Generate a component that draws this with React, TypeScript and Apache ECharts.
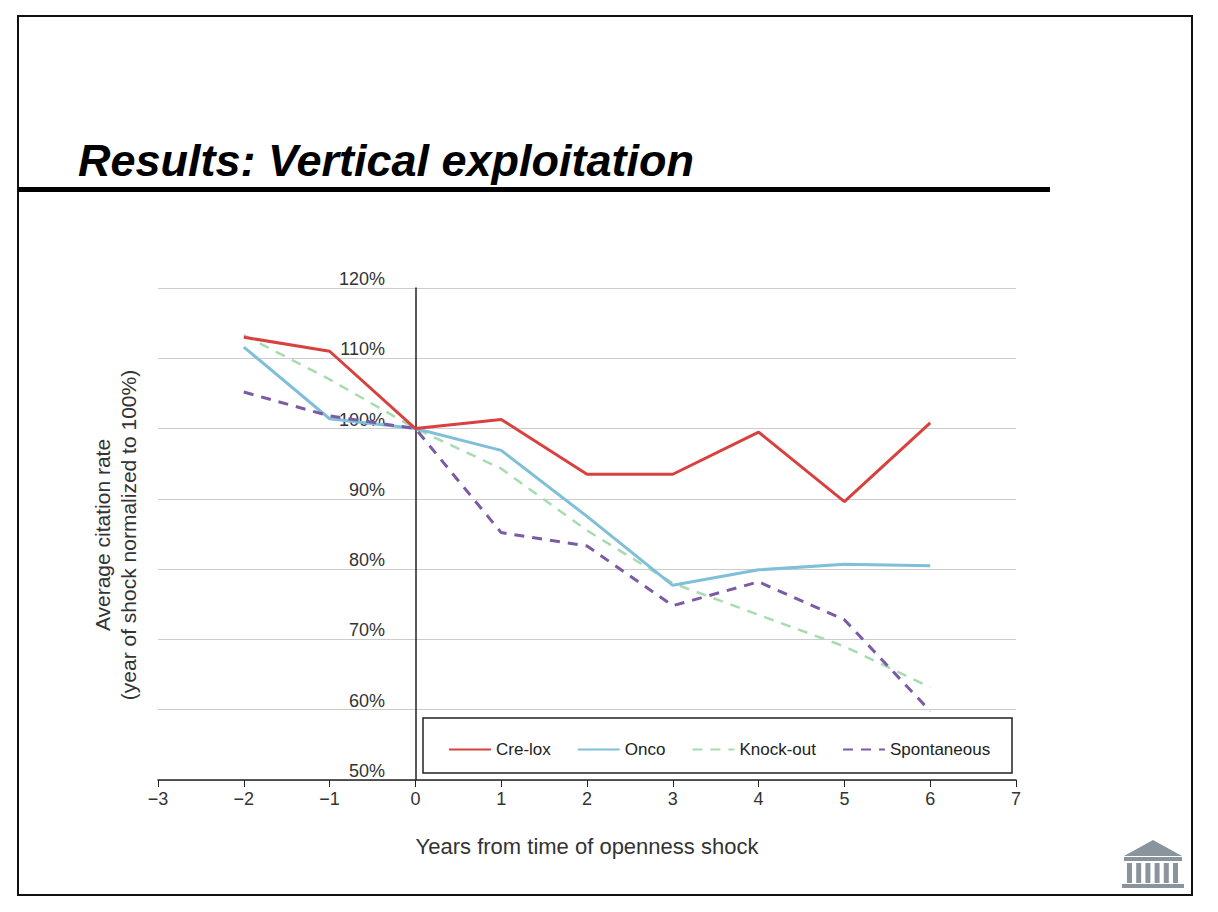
import React, { useEffect, useRef } from "react";
import * as echarts from "echarts";

const years = [-2, -1, 0, 1, 2, 3, 4, 5, 6];
const creLox = [113, 111, 100, 101.3, 93.5, 93.5, 99.5, 89.6, 100.8];
const onco = [111.6, 101.4, 100, 96.9, 87.5, 77.7, 79.9, 80.7, 80.5];
const knockOut = [113.3, 107, 100, 94.3, 85.5, 78, 73.5, 69, 63.2];
const spontaneous = [105.2, 101.8, 100, 85.2, 83.3, 74.8, 78.2, 72.8, 59.8];

const pair = (v: number[]) => years.map((x, i) => [x, v[i]]);
const FONT = "Liberation Sans, Arial, sans-serif";

export default function App() {
  const ref = useRef<HTMLDivElement>(null);
  useEffect(() => {
    const chart = echarts.init(ref.current!, null, { renderer: "svg" });
    const mk = (name: string, data: number[], color: string, dashed: boolean, w = 3) => ({
      name, type: "line", data: pair(data), symbol: "none",
      lineStyle: { color, width: w, type: dashed ? [10, 8] : "solid" },
      itemStyle: { color },
    });
    chart.setOption({
      animation: false,
      textStyle: { fontFamily: FONT },
      grid: { left: 158, right: 202, top: 288, bottom: 132 },
      xAxis: {
        type: "value", min: -3, max: 7, interval: 1,
        axisLine: { onZero: false, lineStyle: { color: "#222", width: 1.5 } },
        axisTick: { show: true, length: 7, lineStyle: { color: "#222" } },
        splitLine: { show: false },
        axisLabel: { fontSize: 18, color: "#333", margin: 10, formatter: (v: number) => (v < 0 ? "\u2212" + -v : String(v)) },
        name: "Years from time of openness shock", nameLocation: "middle", nameGap: 55,
        nameTextStyle: { fontSize: 22, color: "#333" },
      },
      yAxis: {
        type: "value", min: 50, max: 120, interval: 10,
        axisLine: { show: true, onZero: true, lineStyle: { color: "#222", width: 1.5 } },
        axisTick: { show: false },
        splitLine: { lineStyle: { color: "#ccc", width: 1 } },
        axisLabel: { fontSize: 18, color: "#333", margin: -227, verticalAlign: "bottom", formatter: "{value}%" },
      },
      legend: {
        left: 443, top: 736, itemWidth: 42, itemHeight: 3, itemGap: 26,
        itemStyle: { opacity: 0 },
        textStyle: { fontSize: 17, color: "#222" },
        data: ["Cre-lox", "Onco", "Knock-out", "Spontaneous"],
      },
      series: [
        mk("Knock-out", knockOut, "#a6dcb0", true, 2.5),
        mk("Onco", onco, "#7fbfd8", false),
        mk("Cre-lox", creLox, "#d8413f", false),
        mk("Spontaneous", spontaneous, "#7b5aa6", true),
      ],
      graphic: [
        { type: "rect", shape: { x: 18, y: 16, width: 1174, height: 879 }, style: { fill: "none", stroke: "#111", lineWidth: 2 } },
        { type: "text", x: 78, y: 160, style: { text: "Results: Vertical exploitation", font: `italic bold 45px ${FONT}`, fill: "#000", textVerticalAlign: "middle" } },
        { type: "rect", shape: { x: 18, y: 187, width: 1032, height: 5 }, style: { fill: "#000" } },
        { type: "rect", shape: { x: 423, y: 718, width: 589, height: 55 }, style: { fill: "#fff", stroke: "#222", lineWidth: 1.5 }, z: 0 },
        { type: "text", x: 115, y: 535, rotation: Math.PI / 2, style: { text: "Average citation rate\n(year of shock normalized to 100%)", font: `21px ${FONT}`, fill: "#333", align: "center", verticalAlign: "middle", lineHeight: 26 } },
        { type: "group", children: [
          { type: "polygon", shape: { points: [[1124, 856], [1153, 840], [1182, 856]] }, style: { fill: "#8a949c" } },
          { type: "rect", shape: { x: 1124, y: 857, width: 58, height: 4 }, style: { fill: "#8a949c" } },
          ...[0, 1, 2, 3, 4, 5].map((i) => ({ type: "rect", shape: { x: 1127 + i * 9.2, y: 863, width: 5, height: 20 }, style: { fill: "#8a949c" } })),
          { type: "rect", shape: { x: 1122, y: 884, width: 62, height: 4 }, style: { fill: "#8a949c" } },
        ] },
      ],
    });
    return () => chart.dispose();
  }, []);
  return <div ref={ref} style={{ position: "absolute", left: 0, top: 0, width: 1218, height: 912, background: "#fff" }} />;
}
